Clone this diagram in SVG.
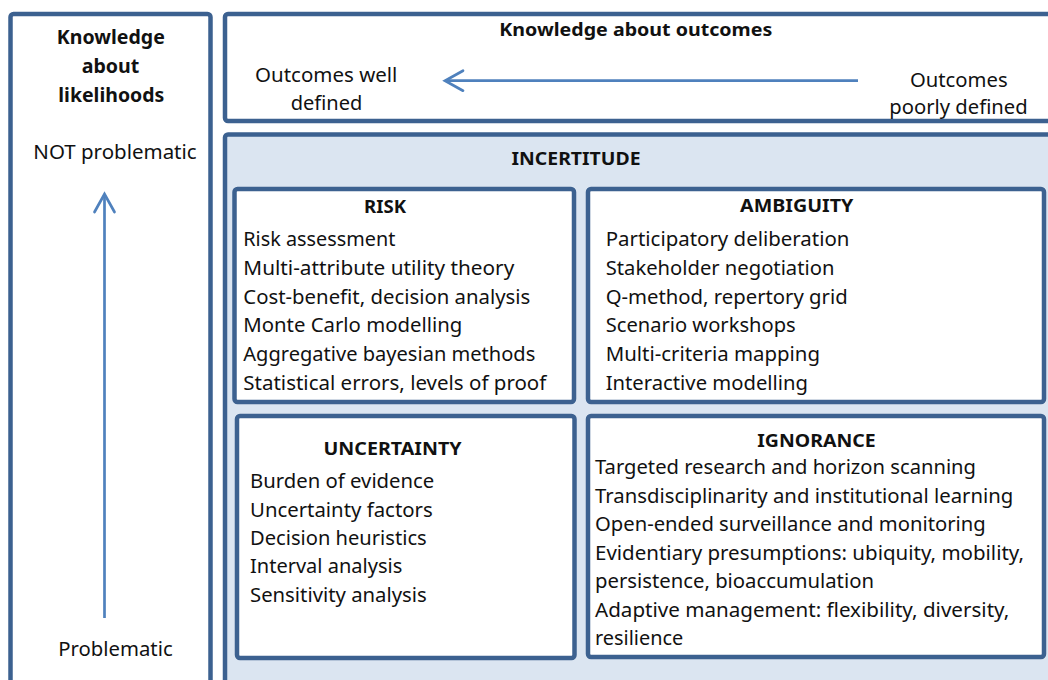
<svg xmlns="http://www.w3.org/2000/svg" width="1048" height="680" viewBox="0 0 1048 680">
<defs>
<style>
.box{fill:#ffffff;stroke:#3c6190;stroke-width:4.5}
.inc{fill:#dbe5f1;stroke:#3c6190;stroke-width:4.5}
.t{font-family:"Noto Sans","Open Sans","Liberation Sans",sans-serif;font-size:20px;fill:#111111}
.h{font-family:"Noto Sans","Open Sans","Liberation Sans",sans-serif;font-size:18px;font-weight:bold;fill:#111111}
.c{text-anchor:middle}
.arr{fill:none;stroke:#4f81bd;stroke-width:2.7}
</style>
<marker id="chev" markerUnits="userSpaceOnUse" viewBox="-22 -13 25 26" markerWidth="25" markerHeight="26" refX="0" refY="0" orient="auto">
<path d="M-18,-10 L0,0 L-18,10" fill="none" stroke="#4f81bd" stroke-width="2.7" stroke-linecap="round"/>
</marker>
</defs>
<rect width="1048" height="680" fill="#ffffff"/>

<g id="likelihoods-panel">
<rect class="box" x="10.5" y="14" width="200" height="700" rx="3"/>
<text class="h c" x="110.8" y="44.3" style="font-size:19px" textLength="108" lengthAdjust="spacingAndGlyphs">Knowledge</text>
<text class="h c" x="110.5" y="72.7" style="font-size:19px" textLength="57.7" lengthAdjust="spacingAndGlyphs">about</text>
<text class="h c" x="111.3" y="101.7" style="font-size:19px" textLength="106" lengthAdjust="spacingAndGlyphs">likelihoods</text>
<text class="t c" x="115" y="159.3" textLength="163.3" lengthAdjust="spacingAndGlyphs">NOT problematic</text>
<text class="t c" x="115.5" y="656" textLength="114.3" lengthAdjust="spacingAndGlyphs">Problematic</text>
</g>

<g id="outcomes-panel">
<rect class="box" x="225" y="14" width="850" height="107" rx="3"/>
<text class="h c" x="635.8" y="36" style="font-size:17px" textLength="273" lengthAdjust="spacingAndGlyphs">Knowledge about outcomes</text>
<text class="t c" x="326.2" y="81.7" textLength="142.3" lengthAdjust="spacingAndGlyphs">Outcomes well</text>
<text class="t c" x="326.5" y="110" textLength="71.7" lengthAdjust="spacingAndGlyphs">defined</text>
<text class="t c" x="958.8" y="86.7" textLength="97.7" lengthAdjust="spacingAndGlyphs">Outcomes</text>
<text class="t c" x="958.5" y="114.3" textLength="138.3" lengthAdjust="spacingAndGlyphs">poorly defined</text>
</g>

<g id="incertitude">
<rect class="inc" x="225" y="134.5" width="850" height="600" rx="3"/>
<text class="h c" x="576" y="165" textLength="129" lengthAdjust="spacingAndGlyphs">INCERTITUDE</text>
</g>

<g id="risk">
<rect class="box" x="234.5" y="189" width="339.5" height="213" rx="3"/>
<text class="h c" x="385" y="213" textLength="42" lengthAdjust="spacingAndGlyphs">RISK</text>
<text class="t" x="243.3" y="246" textLength="152" lengthAdjust="spacingAndGlyphs">Risk assessment</text>
<text class="t" x="243.3" y="274.8" textLength="271" lengthAdjust="spacingAndGlyphs">Multi-attribute utility theory</text>
<text class="t" x="243.3" y="303.6" textLength="287" lengthAdjust="spacingAndGlyphs">Cost-benefit, decision analysis</text>
<text class="t" x="243.3" y="332.4" textLength="219" lengthAdjust="spacingAndGlyphs">Monte Carlo modelling</text>
<text class="t" x="243.3" y="361.2" textLength="292" lengthAdjust="spacingAndGlyphs">Aggregative bayesian methods</text>
<text class="t" x="243.3" y="390" textLength="303" lengthAdjust="spacingAndGlyphs">Statistical errors, levels of proof</text>
</g>

<g id="ambiguity">
<rect class="box" x="588" y="189" width="456" height="213" rx="3"/>
<text class="h c" x="796.7" y="211.7" textLength="113.3" lengthAdjust="spacingAndGlyphs">AMBIGUITY</text>
<text class="t" x="605.7" y="246" textLength="243.7" lengthAdjust="spacingAndGlyphs">Participatory deliberation</text>
<text class="t" x="605.7" y="274.8" textLength="228.7" lengthAdjust="spacingAndGlyphs">Stakeholder negotiation</text>
<text class="t" x="605.7" y="303.6" textLength="242" lengthAdjust="spacingAndGlyphs">Q-method, repertory grid</text>
<text class="t" x="605.7" y="332.4" textLength="190" lengthAdjust="spacingAndGlyphs">Scenario workshops</text>
<text class="t" x="605.7" y="361.2" textLength="214.3" lengthAdjust="spacingAndGlyphs">Multi-criteria mapping</text>
<text class="t" x="605.7" y="390" textLength="202.3" lengthAdjust="spacingAndGlyphs">Interactive modelling</text>
</g>

<g id="uncertainty">
<rect class="box" x="237" y="416" width="337.5" height="242" rx="3"/>
<text class="h c" x="392.5" y="455" textLength="138" lengthAdjust="spacingAndGlyphs">UNCERTAINTY</text>
<text class="t" x="250" y="488.3" textLength="184.3" lengthAdjust="spacingAndGlyphs">Burden of evidence</text>
<text class="t" x="250" y="516.7" textLength="182.7" lengthAdjust="spacingAndGlyphs">Uncertainty factors</text>
<text class="t" x="250" y="545" textLength="176.7" lengthAdjust="spacingAndGlyphs">Decision heuristics</text>
<text class="t" x="250" y="573.3" textLength="152.3" lengthAdjust="spacingAndGlyphs">Interval analysis</text>
<text class="t" x="250" y="602" textLength="176.7" lengthAdjust="spacingAndGlyphs">Sensitivity analysis</text>
</g>

<g id="ignorance">
<rect class="box" x="588" y="416" width="456" height="241" rx="3"/>
<text class="h c" x="816.5" y="446.7" textLength="118.4" lengthAdjust="spacingAndGlyphs">IGNORANCE</text>
<text class="t" x="595" y="474" textLength="381" lengthAdjust="spacingAndGlyphs">Targeted research and horizon scanning</text>
<text class="t" x="595" y="502.5" textLength="418.3" lengthAdjust="spacingAndGlyphs">Transdisciplinarity and institutional learning</text>
<text class="t" x="595" y="531" textLength="390.7" lengthAdjust="spacingAndGlyphs">Open-ended surveillance and monitoring</text>
<text class="t" x="595" y="559.5" textLength="429" lengthAdjust="spacingAndGlyphs">Evidentiary presumptions: ubiquity, mobility,</text>
<text class="t" x="595" y="588" textLength="279" lengthAdjust="spacingAndGlyphs">persistence, bioaccumulation</text>
<text class="t" x="595" y="616.5" textLength="414.3" lengthAdjust="spacingAndGlyphs">Adaptive management: flexibility, diversity,</text>
<text class="t" x="595" y="645" textLength="88.3" lengthAdjust="spacingAndGlyphs">resilience</text>
</g>

<g id="connectors">
<path class="arr" d="M858,80.7 L445,80.7" marker-end="url(#chev)"/>
<path class="arr" d="M104.5,618 L104.5,194" marker-end="url(#chev)"/>
</g>
</svg>
